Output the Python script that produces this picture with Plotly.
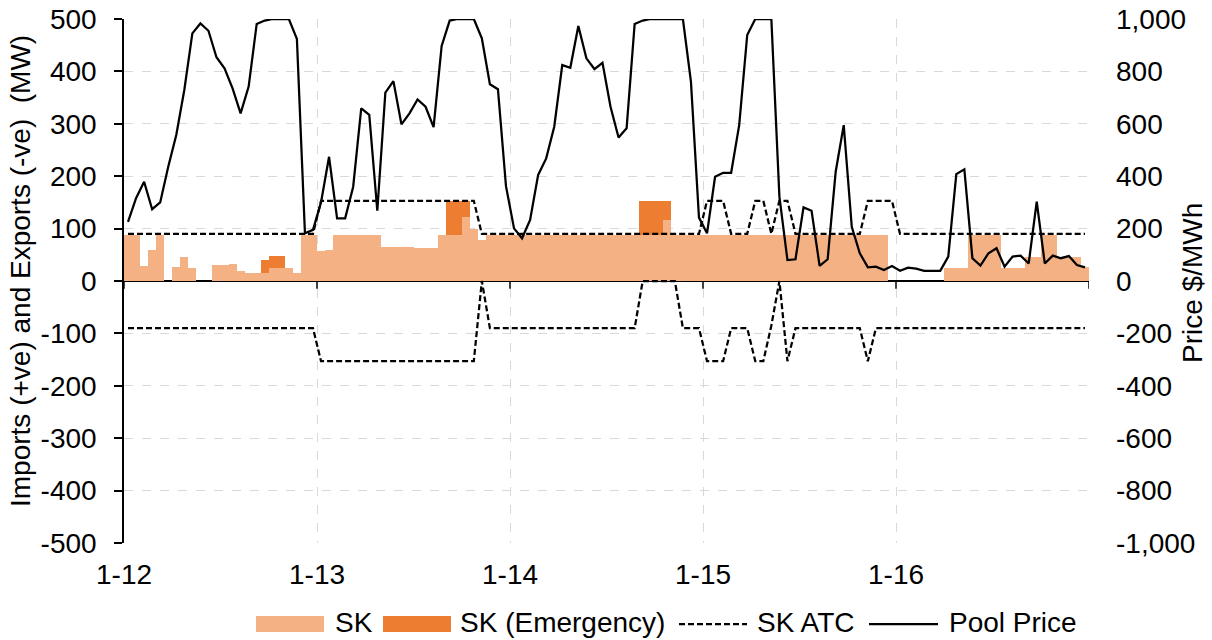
import plotly.graph_objects as go

# ---------------- data ----------------
hours = list(range(120))                      # hourly, 1-12 00:00 .. 1-16 23:00
day_ticks = [0, 24, 48, 72, 96, 120]
day_labels = ["1-12", "1-13", "1-14", "1-15", "1-16", ""]

left_ticks = [500, 400, 300, 200, 100, 0, -100, -200, -300, -400, -500]
left_labels = ["500", "400", "300", "200", "100", "0", "-100", "-200", "-300", "-400", "-500"]
right_ticks = [1000, 800, 600, 400, 200, 0, -200, -400, -600, -800, -1000]
right_labels = ["1,000", "800", "600", "400", "200", "0", "-200", "-400", "-600", "-800", "-1,000"]

series_names = ["SK", "SK (Emergency)", "SK ATC", "Pool Price"]

sk = [
    88, 88, 29, 59, 88, 0, 27, 46, 25, 0, 0, 31,
    30, 33, 19, 15, 15, 15, 25, 25, 25, 15, 88, 88,
    58, 60, 88, 88, 88, 88, 88, 88, 64, 64, 64, 64,
    63, 63, 63, 88, 88, 88, 123, 100, 78, 88, 88, 88,
    88, 88, 88, 88, 88, 88, 88, 88, 88, 88, 88, 88,
    88, 88, 88, 88, 88, 88, 88, 116, 88, 88, 88, 88,
    88, 88, 88, 88, 88, 88, 88, 88, 88, 88, 88, 88,
    88, 88, 88, 88, 88, 88, 88, 88, 88, 88, 88, 0,
    0, 0, 0, 0, 0, 0, 25, 25, 25, 88, 88, 88,
    88, 25, 25, 25, 45, 45, 88, 88, 45, 45, 45, 27,
]

sk_emergency = [
    0, 0, 0, 0, 0, 0, 0, 0, 0, 0, 0, 0,
    0, 0, 0, 0, 0, 25, 23, 23, 0, 0, 0, 0,
    0, 0, 0, 0, 0, 0, 0, 0, 0, 0, 0, 0,
    0, 0, 0, 0, 65, 65, 30, 0, 0, 0, 0, 0,
    0, 0, 0, 0, 0, 0, 0, 0, 0, 0, 0, 0,
    0, 0, 0, 0, 65, 65, 65, 37, 0, 0, 0, 0,
    0, 0, 0, 0, 0, 0, 0, 0, 0, 0, 0, 0,
    0, 0, 0, 0, 0, 0, 0, 0, 0, 0, 0, 0,
    0, 0, 0, 0, 0, 0, 0, 0, 0, 0, 0, 0,
    0, 0, 0, 0, 0, 0, 0, 0, 0, 0, 0, 0,
]

sk_atc_import = [
    90, 90, 90, 90, 90, 90, 90, 90, 90, 90, 90, 90,
    90, 90, 90, 90, 90, 90, 90, 90, 90, 90, 90, 90,
    153, 153, 153, 153, 153, 153, 153, 153, 153, 153, 153, 153,
    153, 153, 153, 153, 153, 153, 153, 153, 90, 90, 90, 90,
    90, 90, 90, 90, 90, 90, 90, 90, 90, 90, 90, 90,
    90, 90, 90, 90, 90, 90, 90, 90, 90, 90, 90, 90,
    153, 153, 153, 90, 90, 90, 153, 153, 90, 153, 153, 90,
    90, 90, 90, 90, 90, 90, 90, 90, 153, 153, 153, 153,
    90, 90, 90, 90, 90, 90, 90, 90, 90, 90, 90, 90,
    90, 90, 90, 90, 90, 90, 90, 90, 90, 90, 90, 90,
]

sk_atc_export = [
    -90, -90, -90, -90, -90, -90, -90, -90, -90, -90, -90, -90,
    -90, -90, -90, -90, -90, -90, -90, -90, -90, -90, -90, -90,
    -153, -153, -153, -153, -153, -153, -153, -153, -153, -153, -153, -153,
    -153, -153, -153, -153, -153, -153, -153, -153, 0, -90, -90, -90,
    -90, -90, -90, -90, -90, -90, -90, -90, -90, -90, -90, -90,
    -90, -90, -90, -90, 0, 0, 0, 0, 0, -90, -90, -90,
    -153, -153, -153, -90, -90, -90, -153, -153, -85, 0, -153, -90,
    -90, -90, -90, -90, -90, -90, -90, -90, -153, -90, -90, -90,
    -90, -90, -90, -90, -90, -90, -90, -90, -90, -90, -90, -90,
    -90, -90, -90, -90, -90, -90, -90, -90, -90, -90, -90, -90,
]

pool_price = [
    226, 316, 379, 274, 300, 436, 557, 729, 945, 983, 955, 854,
    812, 735, 640, 742, 981, 994, 1000, 1000, 1000, 924, 182, 195,
    300, 474, 239, 239, 360, 659, 634, 268, 719, 763, 598, 640,
    693, 665, 587, 897, 994, 1000, 1000, 1000, 926, 751, 732, 362,
    201, 163, 233, 405, 468, 589, 824, 814, 973, 850, 809, 833,
    665, 548, 583, 981, 994, 1000, 1000, 1000, 1000, 1000, 761, 242,
    182, 398, 413, 413, 595, 939, 1000, 1000, 1000, 322, 80, 83,
    281, 268, 58, 83, 417, 595, 207, 106, 52, 55, 42, 57,
    39, 51, 47, 39, 39, 39, 93, 408, 426, 87, 59, 106,
    125, 55, 93, 97, 67, 303, 67, 97, 87, 95, 61, 52,
]

# ---------------- styling / layout helpers ----------------
FONT = "Liberation Sans, Arial, sans-serif"
FS = 28
C_SK = "#F4B183"
C_EM = "#ED7D31"
ATC_DASH = "6px,3px"

W, H = 1212, 640
ML, MR, MT, MB = 124, 123, 19, 97
PW, PH = W - ML - MR, H - MT - MB


def px_x(px):
    return (px - ML) / PW


def px_y(py):
    return (H - MB - py) / PH


x_mid = [h + 0.5 for h in hours]

fig = go.Figure()
fig.add_trace(go.Bar(x=x_mid, y=sk, width=1, name=series_names[0],
                     marker=dict(color=C_SK, line=dict(width=0))))
fig.add_trace(go.Bar(x=x_mid, y=sk_emergency, width=1, name=series_names[1],
                     marker=dict(color=C_EM, line=dict(width=0))))
fig.add_trace(go.Scatter(x=x_mid, y=sk_atc_import, mode="lines", name=series_names[2],
                         line=dict(color="black", width=2.25, dash=ATC_DASH)))
fig.add_trace(go.Scatter(x=x_mid, y=sk_atc_export, mode="lines", name=series_names[2],
                         line=dict(color="black", width=2.25, dash=ATC_DASH)))
fig.add_trace(go.Scatter(x=x_mid, y=pool_price, mode="lines", name=series_names[3],
                         yaxis="y2", line=dict(color="black", width=2.25)))

# tick marks on the zero-crossing category axis
for d in day_ticks:
    fig.add_shape(type="line", xref="x", yref="y", x0=d, x1=d, y0=0, y1=-15,
                  line=dict(color="black", width=1.5))

# legend (drawn below the plot, Excel style with wide swatches)
leg_y = 622
legend_items = [
    ("rect", C_SK, 256, 324, 333, series_names[0]),
    ("rect", C_EM, 383, 451, 458, series_names[1]),
    ("dash", "black", 679, 747, 755, series_names[2]),
    ("line", "black", 869, 938, 947, series_names[3]),
]
for kind, col, x0, x1, tx, label in legend_items:
    if kind == "rect":
        fig.add_shape(type="rect", xref="paper", yref="paper",
                      x0=px_x(x0), x1=px_x(x1), y0=px_y(leg_y + 10), y1=px_y(leg_y - 6),
                      fillcolor=col, line=dict(width=0))
    else:
        fig.add_shape(type="line", xref="paper", yref="paper",
                      x0=px_x(x0), x1=px_x(x1), y0=px_y(leg_y + 2), y1=px_y(leg_y + 2),
                      line=dict(color=col, width=2.25, dash=ATC_DASH if kind == "dash" else "solid"))
    fig.add_annotation(xref="paper", yref="paper", x=px_x(tx), y=px_y(leg_y),
                       xanchor="left", yanchor="middle", showarrow=False, text=label,
                       font=dict(family=FONT, size=FS, color="black"))

# axis titles
fig.add_annotation(xref="paper", yref="paper", x=px_x(20), y=px_y(271),
                   xanchor="center", yanchor="middle", textangle=-90, showarrow=False,
                   text="Imports (+ve) and Exports (-ve)\u00a0 (MW)",
                   font=dict(family=FONT, size=FS, color="black"))
fig.add_annotation(xref="paper", yref="paper", x=px_x(1192), y=px_y(283),
                   xanchor="center", yanchor="middle", textangle=-90, showarrow=False,
                   text="Price $/MWh",
                   font=dict(family=FONT, size=FS, color="black"))

fig.update_layout(
    width=W, height=H,
    margin=dict(l=ML, r=MR, t=MT, b=MB, pad=0, autoexpand=False),
    paper_bgcolor="white", plot_bgcolor="white",
    barmode="stack", bargap=0,
    font=dict(family=FONT, size=FS, color="black"),
    showlegend=False,
    hovermode=False,
    xaxis=dict(range=[0, 120], tickmode="array", tickvals=day_ticks, ticktext=day_labels,
               showgrid=True, gridcolor="#D9D9D9", griddash="dash", gridwidth=1,
               showline=False, zeroline=False, ticks="", ticklabelstandoff=12,
               automargin=False,
               tickfont=dict(family=FONT, size=FS, color="black")),
    yaxis=dict(range=[-500, 500], tickmode="array", tickvals=left_ticks, ticktext=left_labels,
               showgrid=True, gridcolor="#D9D9D9", griddash="dash", gridwidth=1,
               zeroline=True, zerolinecolor="black", zerolinewidth=1.5,
               showline=True, linecolor="black", linewidth=1.5,
               ticks="outside", ticklen=8, tickcolor="black", tickwidth=1.5,
               ticklabelstandoff=12, automargin=False,
               tickfont=dict(family=FONT, size=FS, color="black")),
    yaxis2=dict(range=[-1000, 1000], overlaying="y", side="right",
                tickmode="array", tickvals=right_ticks, ticktext=right_labels,
                showgrid=False, zeroline=False, showline=False, ticks="",
                ticklabelstandoff=26, automargin=False,
                tickfont=dict(family=FONT, size=FS, color="black")),
)

fig.write_html("out.html")
